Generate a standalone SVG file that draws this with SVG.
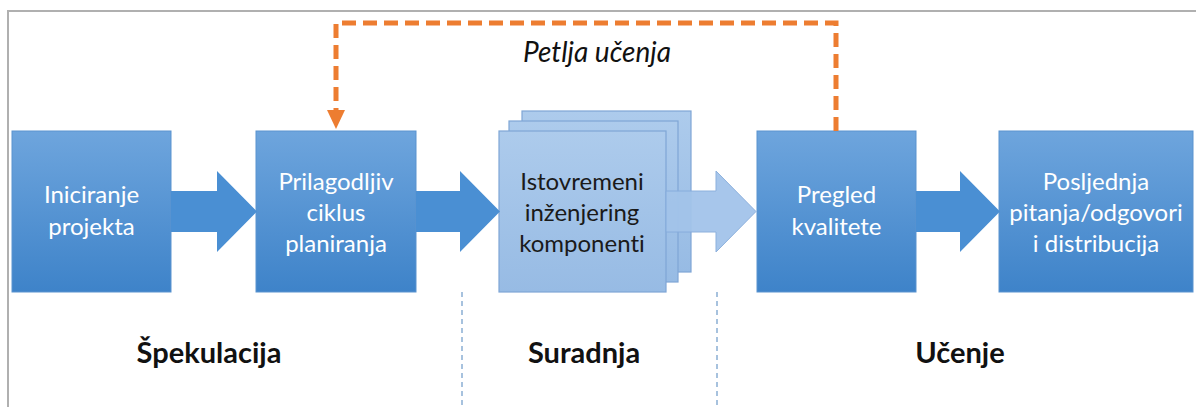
<svg xmlns="http://www.w3.org/2000/svg" width="1196" height="407" viewBox="0 0 1196 407">
  <defs>
    <linearGradient id="gBlue" x1="0" y1="0" x2="0" y2="1">
      <stop offset="0" stop-color="#6ea5dd"/>
      <stop offset="1" stop-color="#3e83c9"/>
    </linearGradient>
    <linearGradient id="gLight" x1="0" y1="0" x2="0" y2="1">
      <stop offset="0" stop-color="#adcbec"/>
      <stop offset="1" stop-color="#97bbe4"/>
    </linearGradient>
    <style>
      text { font-variant-ligatures: none; font-feature-settings: "liga" 0, "dlig" 0; }
      .box { fill: url(#gBlue); stroke: #5a93cf; stroke-width: 1; }
      .stack { fill: url(#gLight); stroke: #7fa6d6; stroke-width: 1.2; }
      .arrow { fill: #4a8fd3; }
      .arrowLight { fill: #a3c4ea; stroke: #86acdc; stroke-width: 1; opacity: 0.95; }
      .nt { font-family: Lato, "Liberation Sans", sans-serif; font-size: 24px; fill: #ffffff; text-anchor: middle; }
      .ntd { font-family: Lato, "Liberation Sans", sans-serif; font-size: 24px; fill: #1a1a1a; text-anchor: middle; }
      .phase { font-family: Lato, "Liberation Sans", sans-serif; font-size: 29px; font-weight: bold; fill: #111111; text-anchor: middle; }
      .loop { fill: none; stroke: #ed7d31; stroke-width: 5; stroke-dasharray: 14 7; }
      .sep { stroke: #8aaed4; stroke-width: 1.5; stroke-dasharray: 5 4; }
      .frame { fill: none; stroke: #b0b0b0; stroke-width: 2; }
    </style>
  </defs>
  <rect width="1196" height="407" fill="#ffffff"/>
  <path class="frame" d="M8,407 L8,11 L1196,11"/>

  <g id="node-iniciranje">
    <rect class="box" x="12" y="131" width="159" height="161"/>
    <text class="nt" x="91.5" y="203">Iniciranje</text>
    <text class="nt" x="91.5" y="235">projekta</text>
  </g>
  <g id="node-prilagodljiv">
    <rect class="box" x="256" y="131" width="160" height="161"/>
    <text class="nt" x="336" y="190">Prilagodljiv</text>
    <text class="nt" x="336" y="221">ciklus</text>
    <text class="nt" x="336" y="252">planiranja</text>
  </g>
  <g id="node-istovremeni">
    <rect class="stack" x="522" y="111" width="169" height="161"/>
    <rect class="stack" x="509" y="121" width="169" height="161"/>
    <rect class="stack" x="499" y="131" width="167" height="161"/>
    <text class="ntd" x="582" y="190">Istovremeni</text>
    <text class="ntd" x="582" y="221">inženjering</text>
    <text class="ntd" x="582" y="252">komponenti</text>
  </g>
  <g id="node-pregled">
    <rect class="box" x="757" y="131" width="159" height="161"/>
    <text class="nt" x="836.5" y="203">Pregled</text>
    <text class="nt" x="836.5" y="235">kvalitete</text>
  </g>
  <g id="node-posljednja">
    <rect class="box" x="999" y="131" width="194" height="161"/>
    <text class="nt" x="1096" y="190">Posljednja</text>
    <text class="nt" x="1096" y="221">pitanja/odgovori</text>
    <text class="nt" x="1096" y="252">i distribucija</text>
  </g>

  <g id="connectors">
    <polygon class="arrow" points="171,191 217,191 217,171 257,211.5 217,252 217,232 171,232"/>
    <polygon class="arrow" points="416,191 460,191 460,171 500,211.5 460,252 460,232 416,232"/>
    <polygon class="arrowLight" points="666,191 716,191 716,171 756,211.5 716,252 716,232 666,232"/>
    <polygon class="arrow" points="916,191 960,191 960,171 1000,211.5 960,252 960,232 916,232"/>
    <path class="loop" d="M836,131 L836,23 L336,23 L336,110"/>
    <polygon points="327,110 345,110 336,129" fill="#ed7d31"/>
    <line class="sep" x1="462" y1="292" x2="462" y2="407"/>
    <line class="sep" x1="717" y1="292" x2="717" y2="407"/>
  </g>

  <text x="597" y="62" font-family="Lato, 'Liberation Sans', sans-serif" font-size="28" font-style="italic" fill="#111111" text-anchor="middle">Petlja učenja</text>

  <g id="phases">
    <text class="phase" x="209" y="363">Špekulacija</text>
    <text class="phase" x="584" y="363">Suradnja</text>
    <text class="phase" x="960" y="363">Učenje</text>
  </g>
</svg>
